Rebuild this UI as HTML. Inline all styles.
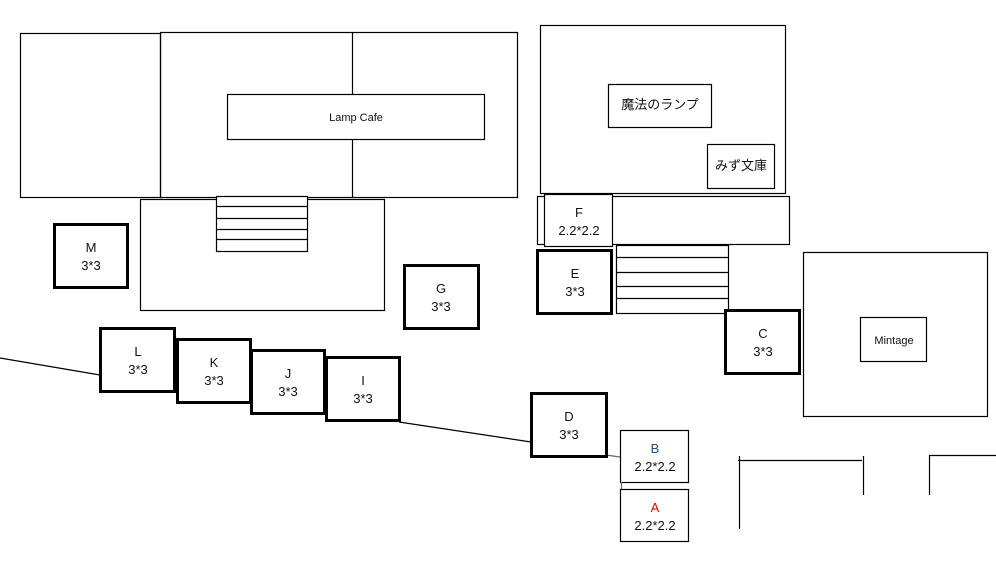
<!DOCTYPE html><html><head><style>body{margin:0;background:#fff}svg{display:block}text{font-family:"Liberation Sans","Noto Sans CJK JP",sans-serif;fill:#111;text-anchor:middle}</style></head><body>
<svg width="996" height="565" viewBox="0 0 996 565">
<g fill="none" stroke="#000" stroke-width="1.2">
<rect x="20.5" y="33.5" width="140" height="164"/>
<rect x="160.5" y="32.5" width="357" height="165"/>
<line x1="352.5" y1="32" x2="352.5" y2="94"/><line x1="352.5" y1="139" x2="352.5" y2="197"/>
<rect x="227.5" y="94.5" width="257" height="45" fill="#fff"/>
<rect x="140.5" y="199.5" width="244" height="111" fill="#fff"/>
<rect x="216.5" y="196.5" width="91" height="55" fill="#fff"/>
<line x1="217" y1="206.5" x2="307" y2="206.5"/><line x1="217" y1="218.5" x2="307" y2="218.5"/><line x1="217" y1="229.5" x2="307" y2="229.5"/><line x1="217" y1="239.5" x2="307" y2="239.5"/>
<rect x="540.5" y="25.5" width="245" height="168"/>
<rect x="608.5" y="84.5" width="103" height="43"/>
<rect x="707.5" y="144.5" width="67" height="44"/>
<rect x="537.5" y="196.5" width="252" height="48"/>
<rect x="544.5" y="194.5" width="68" height="52" fill="#fff"/>
<rect x="616.5" y="245.5" width="112" height="68"/>
<line x1="617" y1="257.5" x2="728" y2="257.5"/><line x1="617" y1="272.5" x2="728" y2="272.5"/><line x1="617" y1="286.5" x2="728" y2="286.5"/><line x1="617" y1="298.5" x2="728" y2="298.5"/>
<rect x="803.5" y="252.5" width="184" height="164"/>
<rect x="860.5" y="317.5" width="66" height="44"/>
<rect x="620.5" y="430.5" width="68" height="52"/>
<rect x="620.5" y="489.5" width="68" height="52"/>
<line x1="621.5" y1="482" x2="621.5" y2="489" stroke="#666"/>
<line x1="739.5" y1="456" x2="739.5" y2="529"/><line x1="738" y1="460.5" x2="862" y2="460.5"/>
<line x1="863.5" y1="456" x2="863.5" y2="495"/><line x1="929.5" y1="455" x2="929.5" y2="495"/><line x1="929" y1="455.5" x2="996" y2="455.5"/>
<line x1="0" y1="358" x2="100" y2="375"/><line x1="399" y1="422" x2="531" y2="442"/><line x1="606" y1="455" x2="620" y2="457" stroke="#666"/>
</g>
<g fill="#fff" stroke="#000" stroke-width="3">
<rect x="54.5" y="224.5" width="73" height="63"/>
<rect x="404.5" y="265.5" width="74" height="63"/>
<rect x="100.5" y="328.5" width="74" height="63"/>
<rect x="177.5" y="339.5" width="73" height="63"/>
<rect x="251.5" y="350.5" width="73" height="63"/>
<rect x="326.5" y="357.5" width="73" height="63"/>
<rect x="531.5" y="393.5" width="75" height="63"/>
<rect x="537.5" y="250.5" width="74" height="63"/>
<rect x="725.5" y="310.5" width="74" height="63"/>
</g>
<g font-size="13">
<text x="91" y="252">M</text><text x="91" y="270">3*3</text>
<text x="441" y="293">G</text><text x="441" y="311">3*3</text>
<text x="138" y="356">L</text><text x="138" y="374">3*3</text>
<text x="214" y="367">K</text><text x="214" y="385">3*3</text>
<text x="288" y="378">J</text><text x="288" y="396">3*3</text>
<text x="363" y="385">I</text><text x="363" y="403">3*3</text>
<text x="569" y="421">D</text><text x="569" y="439">3*3</text>
<text x="575" y="278">E</text><text x="575" y="296">3*3</text>
<text x="763" y="338">C</text><text x="763" y="356">3*3</text>
<text x="579" y="217">F</text><text x="579" y="235">2.2*2.2</text>
<text x="655" y="453" style="fill:#1f4e79">B</text><text x="655" y="471">2.2*2.2</text>
<text x="655" y="512" style="fill:#e00">A</text><text x="655" y="530">2.2*2.2</text>
<text x="660" y="109">魔法のランプ</text>
<text x="741" y="170">みず文庫</text>
</g>
<g font-size="11"><text x="356" y="121">Lamp Cafe</text><text x="894" y="344">Mintage</text></g>
</svg></body></html>
